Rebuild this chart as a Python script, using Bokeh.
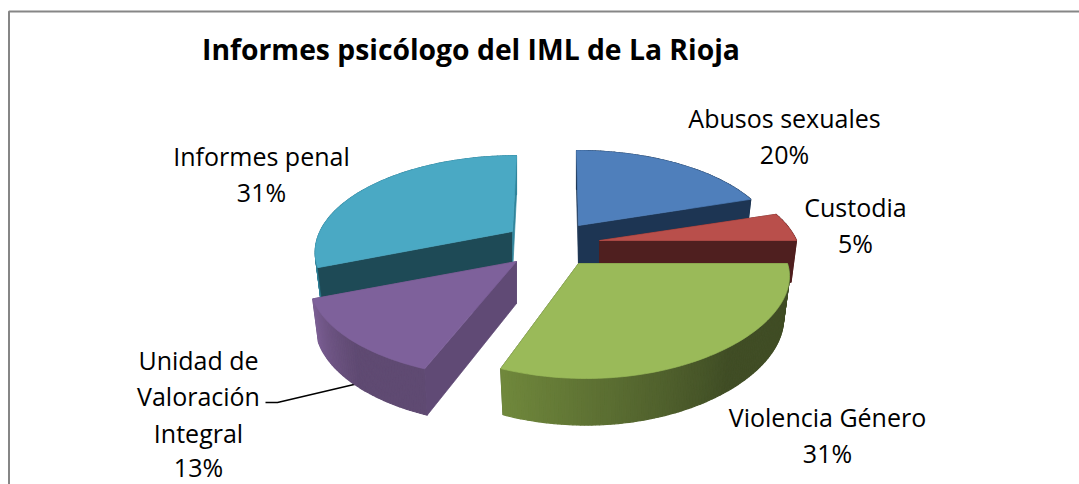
import math
from bokeh.plotting import figure
from bokeh.models import Range1d
from bokeh.core.properties import value
from bokeh.embed import file_html
from bokeh.resources import INLINE

TITLE = "Informes psicólogo del IML de La Rioja"
categories = ["Abusos sexuales", "Custodia", "Violencia Género", "Unidad de Valoración Integral", "Informes penal"]
shares = [20, 5, 31, 13, 31]

top_colors = ["#4f7fbb", "#b94f4b", "#9aba59", "#7e619b", "#4aa9c4"]
start_face = ["#1d3553", "#4f1f1f", "#3f4c24", "#604a75", "#1e4a56"]
end_face = ["#1d3553", "#4f1f1f", "#3f4c24", "#604a75", "#31859c"]
wall_from = ["#1d3553", "#5a2222", "#404d25", "#5f4a72", "#2f7f95"]
wall_to = ["#1d3553", "#5a2222", "#70883c", "#7b5e93", "#2f7f95"]

# per-slice projection: apex, radii, skew, horizontal perspective
apex_x = [578, 599, 578, 516, 512]
apex_y = [225, 240, 263, 261, 231]
rad_x = [193, 197, 209, 203, 192.5]
rad_y = [90, 90, 92, 94, 91]
skew = [-2, 0, -7.5, 0, 4]
persp_x = [0.2, 0.2, 0.1, 0.2, 0.2]
KP = 0.2
DEPTH = 42

W, H = 1079, 484
p = figure(width=W, height=H, output_backend="svg", toolbar_location=None,
           x_range=Range1d(0, W), y_range=Range1d(H, 0), min_border=0)
p.axis.visible = False
p.grid.visible = False
p.outline_line_color = None
p.background_fill_color = "white"
p.border_fill_color = "white"


def hex2rgb(c):
    return [int(c[i:i + 2], 16) for i in (1, 3, 5)]


def mix(a, b, t):
    ra, rb = hex2rgb(a), hex2rgb(b)
    return "#%02x%02x%02x" % tuple(round(x + (y - x) * t) for x, y in zip(ra, rb))


def top_pt(i, th, sx=1.0, sy=1.0, dy=0):
    u, v = math.sin(th), math.cos(th)
    fx = 1 / (1 + persp_x[i] * v)
    fy = 1 / (1 + KP * v)
    return (apex_x[i] + sx * rad_x[i] * u * fx + skew[i] * v,
            apex_y[i] + dy - sy * rad_y[i] * v * fy)


def bot_pt(i, th):
    return top_pt(i, th, 0.972, 1.04, DEPTH)


def draw(xs, ys, c, lw=0.7):
    p.patch(xs, ys, fill_color=c, line_color=c, line_width=lw)


def face(i, th, col):
    t = top_pt(i, th)
    b = bot_pt(i, th)
    draw([apex_x[i], t[0], b[0], apex_x[i]], [apex_y[i], t[1], b[1], apex_y[i] + DEPTH], col)


edges = [0]
for s in shares:
    edges.append(edges[-1] + s)
total = sum(shares)

# leader line sits under the slices
p.line([265, 277, 362], [402, 402, 382], line_color="black", line_width=1.5)

for i in [0, 4, 1, 3, 2]:
    a0 = 2 * math.pi * edges[i] / total
    a1 = 2 * math.pi * edges[i + 1] / total
    front0 = math.sin(a0) < 1e-9      # cut face turned to the viewer?
    front1 = math.sin(a1) > -1e-9
    if not front0:
        face(i, a0, start_face[i])
    if not front1:
        face(i, a1, end_face[i])
    # outer wall with a stepped shade
    n = max(8, int((a1 - a0) * 60))
    for k in range(n):
        t0 = a0 + (a1 - a0) * k / n
        t1 = a0 + (a1 - a0) * (k + 1) / n
        c0, c1 = top_pt(i, t0), top_pt(i, t1)
        d0, d1 = bot_pt(i, t0), bot_pt(i, t1)
        frac = (k + 0.5) / n
        shade = min(1.0, max(0.0, (frac - 0.45) / 0.55))
        draw([c0[0], c1[0], d1[0], d0[0]], [c0[1], c1[1], d1[1], d0[1]],
             mix(wall_from[i], wall_to[i], shade), lw=1.2)
    if front0:
        face(i, a0, start_face[i])
    if front1:
        face(i, a1, end_face[i])
    # top surface
    m = max(8, int((a1 - a0) * 40))
    xs, ys = [apex_x[i]], [apex_y[i]]
    for k in range(m + 1):
        q = top_pt(i, a0 + (a1 - a0) * k / m)
        xs.append(q[0])
        ys.append(q[1])
    draw(xs, ys, top_colors[i])

# frame
p.line([8.5, 8.5, 1079], [484, 11, 11], line_color="#868686", line_width=2)

FONT = value("Open Sans")
p.text([470.5], [48], text=[TITLE], text_font=FONT, text_font_style="bold", text_font_size="28.3px",
       text_align="center", text_baseline="middle", text_color="black")

label_x = [784, 855, 827, 198, 261]
label_y = [[117, 153], [206, 242], [416, 452], [359, 395, 432, 466], [155, 191]]
label_lines = [["Abusos sexuales"], ["Custodia"], ["Violencia Género"],
               ["Unidad de", "Valoración", "Integral"], ["Informes penal"]]
for i, lines in enumerate(label_lines):
    texts = lines + ["%d%%" % shares[i]]
    p.text([label_x[i]] * len(texts), label_y[i], text=texts, text_font=FONT,
           text_font_size="25px", text_align="center", text_baseline="middle", text_color="black")

open("out.html", "w").write(file_html(p, INLINE))
